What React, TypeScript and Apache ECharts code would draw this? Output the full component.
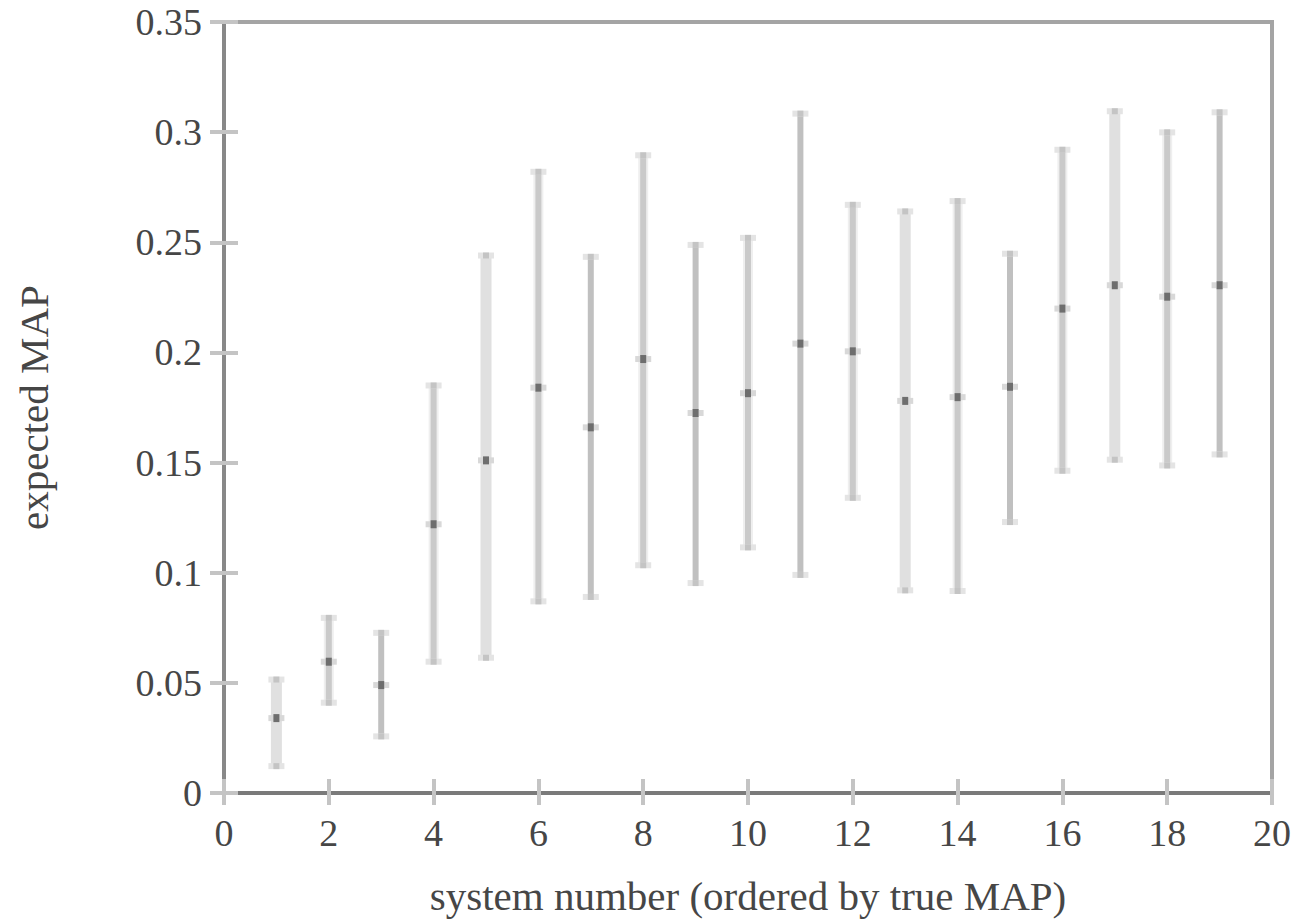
import React, { useEffect, useRef } from "react";
import * as echarts from "echarts";

const systems = [1, 2, 3, 4, 5, 6, 7, 8, 9, 10, 11, 12, 13, 14, 15, 16, 17, 18, 19];
const means = [0.034, 0.0596, 0.049, 0.122, 0.151, 0.184, 0.166, 0.197, 0.1725, 0.1815, 0.204, 0.2005, 0.178, 0.1797, 0.1844, 0.2199, 0.2305, 0.2253, 0.2305];
const lows = [0.0122, 0.041, 0.0257, 0.0596, 0.0614, 0.087, 0.089, 0.1034, 0.0953, 0.1115, 0.099, 0.134, 0.092, 0.0917, 0.123, 0.1463, 0.1513, 0.1487, 0.1537];
const highs = [0.0515, 0.0795, 0.0727, 0.185, 0.244, 0.282, 0.2434, 0.2895, 0.2488, 0.252, 0.3084, 0.267, 0.264, 0.2687, 0.2448, 0.292, 0.3095, 0.2999, 0.309];
// rendering look of each bar in the reference (L = light wide, M = mixed, D = dark narrow)
const looks = ["L", "M", "D", "M", "L", "M", "D", "M", "D", "M", "D", "M", "L", "M", "D", "M", "L", "M", "D"];

const xRange = [0, 20];
const yRange = [0, 0.35];

export default function App() {
  const ref = useRef<HTMLDivElement>(null);
  useEffect(() => {
    document.body.style.margin = "0";
    if (!ref.current) return;
    const chart = echarts.init(ref.current, undefined, { renderer: "svg" });
    const data = systems.map((s, i) => [s, lows[i], highs[i], means[i], i]);
    const font = "'Liberation Serif', 'DejaVu Serif', serif";
    const labelColor = "#464646";
    const tick = (len: number) => ({ show: true, inside: true, length: len, lineStyle: { color: "#c4c4c4", width: 4 } });
    const option: any = {
      animation: false,
      backgroundColor: "#ffffff",
      grid: {
        left: 224,
        right: 31,
        top: 22,
        bottom: 124,
        show: true,
        borderColor: "#a4a4a4",
        borderWidth: 4,
        backgroundColor: "transparent",
      },
      xAxis: [
        {
          type: "value",
          position: "bottom",
          min: xRange[0],
          max: xRange[1],
          interval: 2,
          name: "system number (ordered by true MAP)",
          nameLocation: "middle",
          nameGap: 82,
          nameTextStyle: { fontFamily: font, fontSize: 41, color: labelColor },
          axisLine: { show: true, onZero: false, lineStyle: { color: "#7a7a7a", width: 4 } },
          axisTick: tick(14),
          axisLabel: { fontFamily: font, fontSize: 38, color: labelColor, margin: 21 },
          splitLine: { show: false },
        },
        {
          type: "value",
          position: "top",
          min: xRange[0],
          max: xRange[1],
          interval: 2,
          axisLine: { show: false },
          axisTick: tick(12),
          axisLabel: { show: false },
          splitLine: { show: false },
        },
      ],
      yAxis: [
        {
          type: "value",
          position: "left",
          min: yRange[0],
          max: yRange[1],
          interval: 0.05,
          name: "expected MAP",
          nameLocation: "middle",
          nameGap: 170,
          nameTextStyle: { fontFamily: font, fontSize: 41, color: labelColor },
          axisLine: { show: true, onZero: false, lineStyle: { color: "#888888", width: 4 } },
          axisTick: tick(14),
          axisLabel: {
            fontFamily: font,
            fontSize: 38,
            color: labelColor,
            margin: 22,
            formatter: (v: number) => String(+v.toFixed(2)),
          },
          splitLine: { show: false },
        },
        {
          type: "value",
          position: "right",
          min: yRange[0],
          max: yRange[1],
          interval: 0.05,
          axisLine: { show: false },
          axisTick: tick(14),
          axisLabel: { show: false },
          splitLine: { show: false },
        },
      ],
      series: [
        {
          type: "custom",
          xAxisIndex: 0,
          yAxisIndex: 0,
          data,
          renderItem: (params: any, api: any) => {
            const x = api.value(0);
            const lo = api.coord([x, api.value(1)]);
            const hi = api.coord([x, api.value(2)]);
            const mid = api.coord([x, api.value(3)]);
            const look = looks[api.value(4)];
            const cx = lo[0];
            const children: any[] = [];
            const h = lo[1] - hi[1];
            if (look === "L") {
              children.push({ type: "rect", shape: { x: cx - 5.5, y: hi[1], width: 11, height: h }, style: { fill: "#e0e0e0" } });
            } else if (look === "M") {
              children.push({ type: "rect", shape: { x: cx - 5, y: hi[1], width: 10, height: h }, style: { fill: "#efefef" } });
              children.push({ type: "rect", shape: { x: cx - 3, y: hi[1], width: 6, height: h }, style: { fill: "#cacaca" } });
            } else {
              children.push({ type: "rect", shape: { x: cx - 3, y: hi[1], width: 6, height: h }, style: { fill: "#c0c0c0" } });
            }
            children.push({ type: "rect", shape: { x: cx - 8, y: hi[1] - 3, width: 16, height: 6 }, style: { fill: "#e4e4e4" } });
            children.push({ type: "rect", shape: { x: cx - 3, y: hi[1] - 3, width: 6, height: 6 }, style: { fill: "#c4c4c4" } });
            children.push({ type: "rect", shape: { x: cx - 8, y: lo[1] - 3, width: 16, height: 6 }, style: { fill: "#e4e4e4" } });
            children.push({ type: "rect", shape: { x: cx - 3, y: lo[1] - 3, width: 6, height: 6 }, style: { fill: "#c4c4c4" } });
            children.push({ type: "rect", shape: { x: cx - 8, y: mid[1] - 3, width: 16, height: 6 }, style: { fill: "#d8d8d8" } });
            children.push({ type: "rect", shape: { x: cx - 3, y: mid[1] - 4, width: 6, height: 8 }, style: { fill: "#6e6e6e" } });
            return { type: "group", children };
          },
        },
      ],
    };
    chart.setOption(option);
    return () => chart.dispose();
  }, []);
  return <div ref={ref} style={{ width: 1303, height: 921 }} />;
}
